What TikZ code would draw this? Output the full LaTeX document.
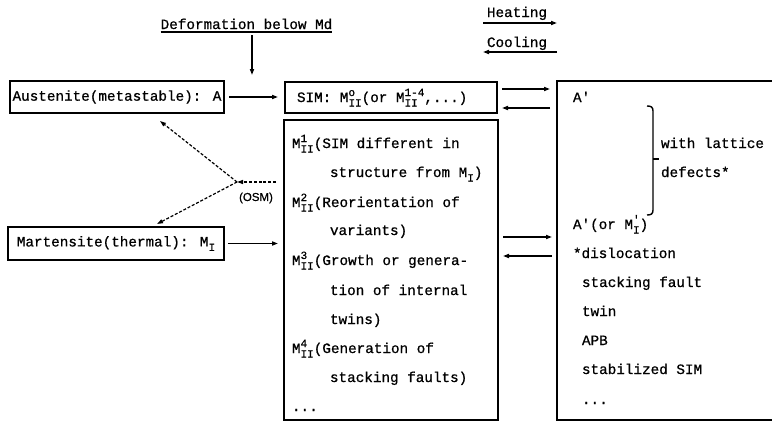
\documentclass[tikz,border=0pt]{standalone}
\usepackage{fontspec}
\newfontfamily\mono{Liberation Mono}[FakeBold=0.8]
\newfontfamily\sansf{Liberation Sans}[FakeBold=0.6]
\usetikzlibrary{arrows.meta}
\newcommand\scr{\mono\fontsize{11}{11}\selectfont}
\newcommand\MS[2]{M\hbox{\setbox0\hbox{\raisebox{6pt}{\scr #1}}\setbox2\hbox{\raisebox{-4.5pt}{\scr #2}}\ifdim\wd0>\wd2 \rlap{\box2}\box0\else\rlap{\box0}\box2\fi}}
\newcommand\MI{M\raisebox{-4.5pt}{\scr I}}
\begin{document}
\begin{tikzpicture}[x=1pt,y=-1pt,
  every node/.style={font=\mono\fontsize{14.3}{17}\selectfont, inner sep=0pt, outer sep=0pt},
  box/.style={draw, line width=2pt, anchor=north west},
  arr/.style={line width=1.5pt, -{Triangle[length=6pt,width=4pt]}},
  dash arr/.style={line width=1.2pt, dash pattern=on 3pt off 1.8pt, -{Triangle[length=6pt,width=4pt]}},
  txt/.style={anchor=base west}]
\useasboundingbox (0,0) rectangle (772,423);

% boxes
\node[box, minimum width=214pt, minimum height=32pt] (A) at (10,81) {Austenite(metastable): A};
\node[box, minimum width=212pt, minimum height=31pt] (SIM) at (285,82) {};
\node[txt] (simt) at (297,102) {SIM: \MS{o}{II}(or \MS{1-4}{II},...)};
\node[box, minimum width=214pt, minimum height=300pt] (Mid) at (284,120) {};
\node[box, minimum width=216pt, minimum height=33pt] (M) at (8,227) {Martensite(thermal): \MI};
\node[anchor=north west, minimum width=215pt, minimum height=339pt] (R) at (557,81) {};
\draw[line width=2pt] (R.north east) -- (R.north west) -- (R.south west) -- (R.south east);

% top labels
\node[anchor=base] (def) at (246.5,29) {Deformation below Md};
\draw[line width=1.2pt] ([yshift=-3pt]def.base west) -- ([yshift=-3pt]def.base east);
\coordinate (d1) at (252,35);
\coordinate (d2) at (252,75);
\draw[arr] (d1) -- (d2);

\node[anchor=base] (heat) at (517,17) {Heating};
\coordinate (h1) at (483,23);
\coordinate (h2) at (557,23);
\draw[arr] (h1) -- (h2);
\node[anchor=base] (cool) at (517,47) {Cooling};
\coordinate (c1) at (483,52);
\coordinate (c2) at (557,52);
\draw[arr] (c2) -- (c1);

% arrows between boxes
\draw[arr, shorten <=5pt, shorten >=7pt] (A.east) -- (A.east -| SIM.west);
\draw[arr, shorten <=4pt, shorten >=6pt] (M.east) -- (M.east -| Mid.west);
\draw[arr, shorten <=5pt, shorten >=7pt] ([yshift=8.5pt]SIM.east) -- ([yshift=8.5pt]SIM.east -| R.west);
\draw[arr, shorten <=7pt, shorten >=5pt] ([yshift=-10.5pt]SIM.east -| R.west) -- ([yshift=-10.5pt]SIM.east);
\draw[arr, shorten <=5pt, shorten >=5pt] ([yshift=33pt]Mid.east) -- ([yshift=33pt]Mid.east -| R.west);
\draw[arr, shorten <=5pt, shorten >=5pt] ([yshift=14pt]Mid.east -| R.west) -- ([yshift=14pt]Mid.east);

% OSM dashed
\coordinate (J) at (237,182);
\coordinate (Jr) at (276,182);
\coordinate (Aa) at (160,121);
\coordinate (Ma) at (157,224);
\draw[dash arr] (Jr) -- (J);
\draw[dash arr] (J) -- (Aa);
\draw[dash arr] (J) -- (Ma);
\node[font=\sansf\fontsize{11.5}{11.5}\selectfont] (osm) at (256,198) {(OSM)};

% middle box text
\node[txt] (m1) at (292,148) {\MS{1}{II}(SIM different in};
\node[txt] (m1b) at (330,177) {structure from \MI)};
\node[txt] (m2) at (292,207) {\MS{2}{II}(Reorientation of};
\node[txt] (m2b) at (330,235) {variants)};
\node[txt] (m3) at (292,265) {\MS{3}{II}(Growth or genera-};
\node[txt] (m3b) at (330,295) {tion of internal};
\node[txt] (m3c) at (330,324) {twins)};
\node[txt] (m4) at (292,353) {\MS{4}{II}(Generation of};
\node[txt] (m4b) at (330,382) {stacking faults)};
\node[txt] (m5) at (292,411) {...};

% right box text
\node[txt] (r1) at (573,102) {A'};
\draw[line width=1.4pt] (647,106) .. controls (651,106) and (653,107) .. (653,111) -- (653,210) .. controls (653,214) and (651,215) .. (647,215);
\draw[line width=1.4pt] (653,159) -- (659,159);
\node[txt] (w1) at (661,148) {with lattice};
\node[txt] (w2) at (661,177) {defects*};
\node[txt] (r2) at (573,229) {A'(or M\hbox{\setbox0\hbox{\raisebox{6pt}{\scr '}}\setbox2\hbox{\raisebox{-4.5pt}{\scr I}}\rlap{\box0}\box2})};
\node[txt] (r3) at (573,258) {*dislocation};
\node[txt] (r4) at (582,287) {stacking fault};
\node[txt] (r5) at (582,316) {twin};
\node[txt] (r6) at (582,345) {APB};
\node[txt] (r7) at (582,374) {stabilized SIM};
\node[txt] (r8) at (582,404) {...};
\end{tikzpicture}
\end{document}
